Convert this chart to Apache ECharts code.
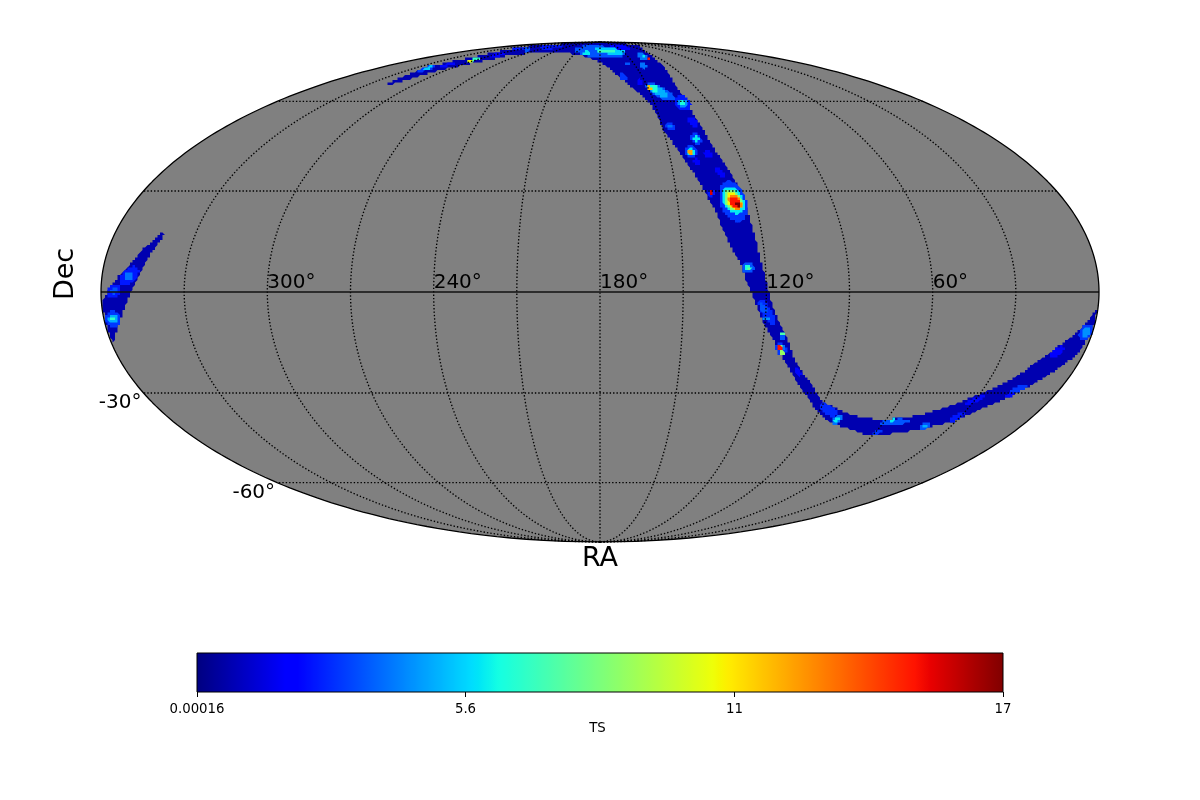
<!DOCTYPE html>
<html><head><meta charset="utf-8"><style>html,body{margin:0;background:#fff}#c{width:1200px;height:800px}</style>
<script src="https://cdn.jsdelivr.net/npm/echarts@6/dist/echarts.min.js"></script></head>
<body><div id="c"></div>
<script>
// Sky band outline (RA, Dec in degrees)
var mainRa=[318.5,319.6,320.9,320.7,319.2,316.3,313.5,312.7,318.5,321.7,315.5,295.4,253.7,180,109.2,85.4,119.5,125.8,130.4,131.9,131.9,130.7,130.1,128.6,126.7,125.2,124.5,123.7,123,122.3,121.7,120.7,119.4,117.9,115.8,113.2,110.9,106.9,102.6,97.6,90.2,87,80.1,71.7,62.4,54.7,47.4,42.1,37.3,30.8,25.2,22,18.9,16.3,13.4,10.2,7.5,4,2.3,0.3,0.2,1.4,3.1,5.4,7.7,10.4,13.2,16.5,20.1,24,27.5,30.9,36.4,42,47.2,52.9,60.9,69.3,77.5,82.9,90.1,97.7,103.7,107.3,110.5,114.1,116.9,120.8,124,125.9,127.6,128.5,130.4,132.3,133.6,135,135.5,137.2,138.7,140.2,141.8,143.4,145.3,147.2,148.6,150.2,150.5,150.9,152.4,156.4,160.9,165.9,172,180,190.2,202.7,223,240.5,258,270.7,281.7,286.5,294.2,299.5,305.5,308.6,311.4,315.1];
var mainDec=[66.8,69.4,71.8,74.3,76.4,78.2,80.1,82.1,84.3,86,87.2,88.1,88.4,88.6,88.3,87.2,82.1,75.2,68.9,63.6,55.7,49,44.7,40.7,36.6,32.2,27.2,23.6,18.2,13.8,10.2,5.8,1.2,-3.8,-7.3,-11.1,-14.1,-20,-23.9,-27.5,-33.1,-33.7,-35.9,-37.5,-38.5,-37.8,-36.9,-35.3,-33.7,-30.6,-28.2,-26,-23.6,-20.9,-18.5,-15.5,-13.5,-10.2,-7.6,-5.3,-9.1,-16.1,-19.4,-21.5,-23.9,-26,-28.5,-30.6,-32.8,-34.7,-36.9,-39.1,-40.1,-41.4,-42.4,-43,-43.7,-42,-40.4,-39.1,-36.2,-31.2,-26.9,-23.6,-20.6,-16.4,-13.2,-8.8,-2.9,0.9,4.1,7.3,10.5,13.8,17,20.3,23.3,26.3,29.7,32.8,35.9,38.8,42,45.3,47.7,49.7,52.5,55,59.4,62.8,66,69.8,73.4,76.7,78.7,80.4,81.5,82.1,81.8,80.9,79.8,77.7,76.2,74.5,72.9,70.7,68.5,66.4];
var leftRa=[342.7,344.1,346.9,348.5,350,352,354.2,355.7,357.5,359,359.7,359.7,359.6,355.7,352.7,349.5,347.8,346.4,345.2,344.1,342.7,341.5];
var leftDec=[18.2,15.2,13.2,10.8,8.8,6.4,4.4,2.2,0,-1.8,-3.8,-8.8,-15.2,-10.5,-6.1,-0.3,2.6,5.5,8.5,10.8,13.8,16.7];
var bandTs=[0.7,0.7];
// Brighter TS patches on the band
var patchRa=[146.9,180,166.4,171.9,196,134.5,133.5,130.8,155.4,144.4,163.7,311.7,319.7,319.7,296.7,303,303.3,302.8,284.9,270.6,143.7,153.4,143.9,144.8,146.9,149.4,134.3,134.3,134.3,146.2,146.2,134.2,136.2,136.2,140.4,140.4,140.4,133.3,139,130.7,136.4,136.4,128.5,127.8,128.4,128.4,128.1,127.8,127.8,127.2,126.4,126.4,126.4,119.5,121.1,119.8,113.3,113.4,112.9,112.3,113.1,112.3,113.7,104.6,86.7,80.5,80.5,59,55.4,57,41.1,41.1,31.3,30,16.4,17.7,10.2,2.4,2.4,350.2,350.2,355.3,355.3,356.7,356.7,356.7];
var patchDec=[84.6,82.1,82.7,82.7,81.5,79.3,79.3,78.7,75.7,74.3,69.8,75.2,73.8,73.8,80.4,77.7,77.4,83.9,83.3,85.3,74.8,67.7,63.6,64,65.2,65.2,59.4,59.4,59.4,51.1,51.1,52.5,46.7,46.7,42.4,42.4,42.4,41.7,39.1,35.9,29.4,29.4,26.9,22.1,27.2,27.2,26.9,26.6,26.6,26,7,7,7,-6.1,-4.7,-7.9,-13.2,-12,-16.7,-16.4,-15.8,-17.9,-16.4,-23.6,-35.3,-38.5,-38.5,-42.4,-39.1,-38.5,-40.4,-40.4,-37.5,-32.2,-28.8,-30.6,-17.6,-11.7,-11.7,4.7,4.7,0.3,0.3,-7.9,-7.9,-7.9];
var patchMajor=[3.6,9,5.4,3.2,1.4,2.2,0.7,0.7,1.1,1.1,1.8,3.6,3.6,2.2,2.9,2.2,1.1,3.6,1.4,4.3,1.4,1.4,5.8,4,1.8,0.9,3.2,1.8,1.1,1.8,0.7,2.2,2.2,1.1,2.5,1.4,0.9,1.8,1.4,2.2,1.4,0.7,7.6,2.5,5.4,4.3,3.4,3.1,2.4,1.1,2.2,1.3,0.5,5.4,2.2,1.1,0.9,0.7,2.5,0.7,0.7,0.9,0.9,1.8,3.6,2.2,1.3,2.5,5.4,1.1,2.2,0.9,2.9,3.6,3.6,1.8,3.2,3.2,1.8,4.3,1.8,2.9,1.4,2.9,1.8,0.9];
var patchMinor=[1.1,2.2,1.1,0.7,0.7,1.1,0.5,0.5,0.7,0.7,1.1,0.5,0.7,0.5,0.7,0.5,0.4,0.7,0.5,0.7,0.9,1.1,2,1.4,1.3,0.9,2.5,1.4,0.7,1.4,0.7,1.4,1.8,1.1,2.2,1.3,1.1,1.4,1.1,1.1,1.4,0.7,4.7,1.8,3.6,2.9,2.2,2,1.5,0.7,2,1.1,0.7,1.8,1.1,0.7,1.1,0.7,1.8,1.1,0.5,0.9,1.1,0.9,1.8,1.3,0.7,0.7,1.1,0.5,1.1,0.5,1.1,0.9,1.1,0.9,1.4,2.2,1.4,2.5,1.4,2.2,1.1,2.9,1.6,0.7];
var patchTilt=[8,5,5,5,0,30,0,0,0,0,40,-18,-20,-20,-12,-15,-15,-6,-5,-4,30,30,28,28,28,0,30,30,30,60,0,50,45,45,45,45,0,50,50,55,0,0,70,0,60,60,55,55,55,55,0,0,0,60,60,0,0,0,60,0,0,0,0,60,30,-35,-35,-25,-4,-4,-30,-30,-30,-20,-25,-25,-35,-50,-50,-45,-45,-45,-45,0,0,0];
var patchTs=[2,3.5,5.5,7,6,4,6,15,3.5,3,3,2.2,3,5.5,2,7,11,2.5,3.5,2.5,4,2,3.5,5,6.5,12,2.5,4.5,6.5,3,4,2.2,3,6,3,6,12.5,2,1.8,1.8,2.5,15.5,3,3,6,8.5,11,13,15,16.9,3.5,6.5,8,2.8,3.5,4.5,3.5,7.5,3,4,8,9,15,2.2,2.8,4,6,3,3.5,6,3.5,5,2.5,2.2,3,2.2,2,3,4.5,2.5,4,2.5,3.5,3,5,7];
// Axes
var raTicks=[300,240,180,120,60];
var decTicks=[-30,-60];
var meridians=[30,60,90,120,150,180,210,240,270,300,330];
var parallels=[-60,-30,30,60];
var tsMin=0.00016, tsMax=16.9;
var tsTicks=[0.00016,5.63,11.27,16.9];
var tsLabels=['0.00016','5.6','11','17'];

var FONT='"DejaVu Sans"';
function mollweide(ra,dec){
  var phi=dec*Math.PI/180,t=phi,k=Math.PI*Math.sin(phi);
  if(Math.abs(dec)>=90){t=phi;}
  else for(var i=0;i<60;i++){var d=2+2*Math.cos(2*t);if(d<1e-6)break;t-=(2*t+Math.sin(2*t)-k)/d;}
  return [(180-ra)/180*Math.cos(t),Math.sin(t)];
}
function jet(t){
  function seg(xs,ys){for(var i=1;i<xs.length;i++){if(t<=xs[i])return ys[i-1]+(ys[i]-ys[i-1])*(t-xs[i-1])/(xs[i]-xs[i-1]);}return ys[ys.length-1];}
  var r=seg([0,.35,.66,.89,1],[0,0,1,1,.5]),g=seg([0,.125,.375,.64,.91,1],[0,0,1,1,0,0]),b=seg([0,.11,.34,.65,1],[.5,1,1,0,0]);
  return 'rgb('+Math.round(r*255)+','+Math.round(g*255)+','+Math.round(b*255)+')';
}
var palette=[];for(var n=0;n<256;n++)palette.push(jet(n/255));
var barStops=palette.map(function(c,i){return {offset:i/255,color:c};});

var sampleDecs=[];for(var sd=-90;sd<=90;sd+=1)sampleDecs.push(sd);
var sampleRas=[];for(var sr=0;sr<=360;sr+=2)sampleRas.push(sr);
function meridianLine(ra){return sampleDecs.map(function(d){return mollweide(ra,d);});}
function parallelLine(dec){return sampleRas.map(function(r){return mollweide(r,dec);});}
var rimLine=meridianLine(0).concat(meridianLine(360).reverse());

var GRID=2.5; // raster cell of the map, in pixels
function rasterise(pts){
  var out=[],last=null;
  function add(x,y){var sx=Math.round(x/GRID)*GRID,sy=Math.round(y/GRID)*GRID;
    if(!last||last[0]!==sx||last[1]!==sy){last=[sx,sy];out.push(last);}}
  for(var i=0;i<pts.length;i++){
    var a=pts[i],b=pts[(i+1)%pts.length],len=Math.max(1,Math.ceil(Math.hypot(b[0]-a[0],b[1]-a[1])));
    for(var s=0;s<len;s++)add(a[0]+(b[0]-a[0])*s/len,a[1]+(b[1]-a[1])*s/len);
  }
  return out;
}
var bandOutlines=[[mainRa,mainDec],[leftRa,leftDec]];
function renderBand(p,api){
  var o=bandOutlines[api.value(1)],pts=o[0].map(function(r,i){return api.coord(mollweide(r,o[1][i]));});
  return {type:'polygon',shape:{points:rasterise(pts)},style:{fill:api.visual('color')}};
}
function renderPatch(p,api){
  var c=api.coord(mollweide(api.value(1),api.value(2))),u=api.size([1/180,1/90]);
  var a=api.value(3)*u[0],b=api.value(4)*u[1],th=api.value(5)*Math.PI/180,pts=[];
  for(var i=0;i<28;i++){var q=i/28*2*Math.PI,x=a*Math.cos(q),y=b*Math.sin(q);
    pts.push([c[0]+x*Math.cos(th)-y*Math.sin(th),c[1]+x*Math.sin(th)+y*Math.cos(th)]);}
  return {type:'polygon',shape:{points:rasterise(pts)},style:{fill:api.visual('color')}};
}
function renderSky(p,api){
  return {type:'polygon',shape:{points:rimLine.map(function(q){return api.coord(q);})},style:{fill:'#808080'}};
}
function renderRaTick(p,api){
  var c=api.coord(mollweide(api.value(0),0));
  return {type:'text',x:c[0],y:c[1]+1,style:{text:api.value(0)+'°',fill:'#000',font:'20px '+FONT,textAlign:'left',textVerticalAlign:'bottom'}};
}
function renderDecTick(p,api){
  var c=api.coord(mollweide(360,api.value(0)));
  return {type:'text',x:c[0]-2,y:c[1],style:{text:api.value(0)+'°',fill:'#000',font:'20px '+FONT,textAlign:'right',textVerticalAlign:'top'}};
}
function renderBar(p,api){
  var a=api.coord([api.value(0),1]),b=api.coord([api.value(1),0]);
  return {type:'rect',shape:{x:a[0],y:a[1],width:b[0]-a[0],height:b[1]-a[1]},
    style:{fill:new echarts.graphic.LinearGradient(0,0,1,0,barStops),stroke:'#000',lineWidth:1}};
}
function lineSeries(data,style,z){
  return {type:'line',xAxisIndex:0,yAxisIndex:0,data:data,showSymbol:false,silent:true,animation:false,z:z,lineStyle:style};
}
var dotted={color:'#000',width:1.35,type:[1.4,2]};
var series=[
  {type:'custom',xAxisIndex:0,yAxisIndex:0,data:[[0,0]],renderItem:renderSky,silent:true,animation:false,z:1},
  {type:'custom',xAxisIndex:0,yAxisIndex:0,data:bandTs.map(function(t,i){return [t,i];}),renderItem:renderBand,silent:true,animation:false,z:2},
  {type:'custom',xAxisIndex:0,yAxisIndex:0,data:patchTs.map(function(t,i){return [t,patchRa[i],patchDec[i],patchMajor[i],patchMinor[i],patchTilt[i]];}),renderItem:renderPatch,silent:true,animation:false,z:3}
];
meridians.forEach(function(r){series.push(lineSeries(meridianLine(r),dotted,4));});
parallels.forEach(function(d){series.push(lineSeries(parallelLine(d),dotted,4));});
series.push(lineSeries(parallelLine(0),{color:'#111',width:1.6},5));
series.push(lineSeries(rimLine,{color:'#000',width:1.3},5));
series.push({type:'custom',xAxisIndex:0,yAxisIndex:0,data:raTicks.map(function(r){return [r];}),renderItem:renderRaTick,silent:true,animation:false,z:6});
series.push({type:'custom',xAxisIndex:0,yAxisIndex:0,data:decTicks.map(function(d){return [d];}),renderItem:renderDecTick,silent:true,animation:false,z:6});
series.push({type:'custom',xAxisIndex:1,yAxisIndex:1,data:[[tsMin,tsMax]],renderItem:renderBar,silent:true,animation:false,z:2,clip:false});

var chart=echarts.init(document.getElementById('c'),null,{width:1200,height:800});
chart.setOption({
  backgroundColor:'#fff',animation:false,
  grid:[{left:101,top:42,width:998,height:500},{left:197,top:653,width:806,height:39}],
  xAxis:[
    {type:'value',gridIndex:0,min:-1,max:1,show:false},
    {type:'value',gridIndex:1,min:tsMin,max:tsMax,position:'bottom',splitLine:{show:false},axisLine:{show:false},
     axisTick:{show:true,length:5,lineStyle:{color:'#000',width:1},customValues:tsTicks},
     axisLabel:{show:true,margin:11,color:'#000',fontFamily:FONT,fontSize:13.3,hideOverlap:false,showMinLabel:true,showMaxLabel:true,customValues:tsTicks,
       formatter:function(v){var i=tsTicks.indexOf(v);return i>=0?tsLabels[i]:'';}},
     name:'TS',nameLocation:'middle',nameGap:30,nameTextStyle:{color:'#000',fontFamily:FONT,fontSize:13.3,padding:[0,5,0,0]}}
  ],
  yAxis:[
    {type:'value',gridIndex:0,min:-1,max:1,show:false},
    {type:'value',gridIndex:1,min:0,max:1,show:false}
  ],
  visualMap:{show:false,type:'continuous',seriesIndex:[1,2],dimension:0,min:tsMin,max:tsMax,inRange:{color:palette}},
  graphic:[
    {type:'text',x:66,y:274,rotation:Math.PI/2,style:{text:'Dec',fill:'#000',font:'27px '+FONT,textAlign:'center',textVerticalAlign:'middle'}},
    {type:'text',x:600,y:559,style:{text:'RA',fill:'#000',font:'27px '+FONT,textAlign:'center',textVerticalAlign:'middle'}}
  ],
  series:series
});
</script></body></html>
